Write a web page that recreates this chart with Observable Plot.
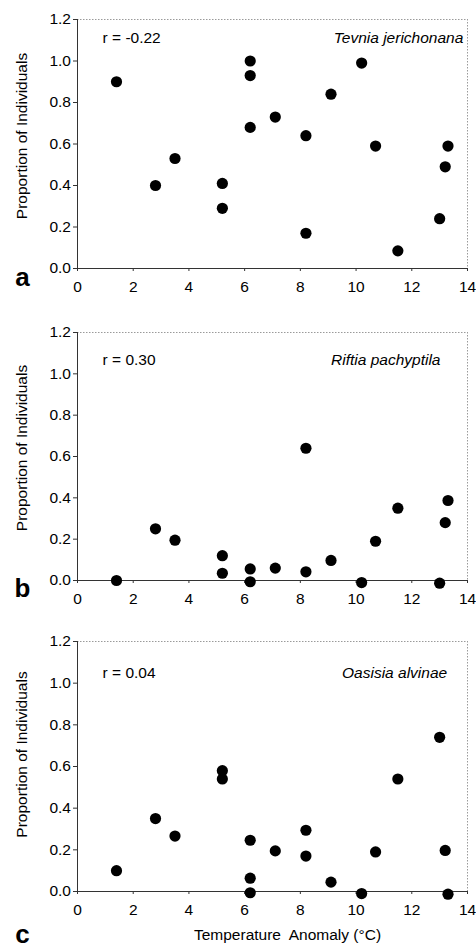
<!DOCTYPE html>
<html>
<head>
<meta charset="utf-8">
<script src="https://cdn.jsdelivr.net/npm/d3@7"></script>
<script src="https://cdn.jsdelivr.net/npm/@observablehq/plot@0.6"></script>
<style>
  body { margin: 0; background: #fff; }
  #chart { width: 476px; height: 949px; }
  #chart svg { display: block; }
  #chart svg text { white-space: pre; }
</style>
</head>
<body>
<div id="chart"></div>
<script>
// ---- data ----
const xTicks = [0, 2, 4, 6, 8, 10, 12, 14];
const yTicks = [0, 0.2, 0.4, 0.6, 0.8, 1.0, 1.2];

const tevniaTemp = [1.4, 2.8, 3.5, 5.2, 5.2, 6.2, 6.2, 6.2, 7.1, 8.2, 8.2, 9.1, 10.2, 10.7, 11.5, 13.0, 13.2, 13.3];
const tevniaProp = [0.90, 0.40, 0.53, 0.41, 0.29, 1.00, 0.93, 0.68, 0.73, 0.64, 0.17, 0.84, 0.99, 0.59, 0.085, 0.24, 0.49, 0.59];

const riftiaTemp = [1.4, 2.8, 3.5, 5.2, 5.2, 6.2, 6.2, 7.1, 8.2, 8.2, 9.1, 10.2, 10.7, 11.5, 13.0, 13.2, 13.3];
const riftiaProp = [0.0, 0.25, 0.195, 0.12, 0.035, 0.056, -0.006, 0.06, 0.64, 0.042, 0.097, -0.01, 0.19, 0.35, -0.013, 0.28, 0.387];

const oasisiaTemp = [1.4, 2.8, 3.5, 5.2, 5.2, 6.2, 6.2, 6.2, 7.1, 8.2, 8.2, 9.1, 10.2, 10.7, 11.5, 13.0, 13.2, 13.3];
const oasisiaProp = [0.10, 0.35, 0.266, 0.58, 0.54, 0.246, 0.064, -0.006, 0.195, 0.294, 0.17, 0.045, -0.01, 0.19, 0.54, 0.74, 0.197, -0.013];

const panelLetters = ["a", "b", "c"];
const species = ["Tevnia jerichonana", "Riftia pachyptila", "Oasisia alvinae"];
const rLabels = ["r = -0.22", "r = 0.30", "r = 0.04"];
const yLabel = "Proportion of Individuals";
const xLabel = "Temperature  Anomaly (°C)";

// ---- layout per panel ----
const layout = [
  {height: 310, marginTop: 19, marginBottom: 42, rY: 1.111, spX: 13.85, letterDy: 17, yLabDy: -8},
  {height: 310, marginTop: 22, marginBottom: 40, rY: 1.069, spX: 13.03, letterDy: 16, yLabDy: -8.5},
  {height: 329, marginTop: 21, marginBottom: 58, rY: 1.051, spX: 13.27, letterDy: 51, yLabDy: -12}
];
const temps = [tevniaTemp, riftiaTemp, oasisiaTemp];
const props = [tevniaProp, riftiaProp, oasisiaProp];

const font = "'Liberation Sans', Arial, Helvetica, sans-serif";
const fs = 15.5;
const chart = document.getElementById("chart");

for (let i = 0; i < 3; i++) {
  const L = layout[i];
  const data = temps[i].map((t, j) => ({t, p: props[i][j]}));
  const marks = [
    Plot.ruleY([1.2], {stroke: "#9a9a9a", strokeDasharray: "1.5,1.5"}),
    Plot.ruleX([14], {stroke: "#9a9a9a", strokeDasharray: "1.5,1.5"}),
    Plot.axisY(yTicks, {tickFormat: d3.format(".1f"), tickSize: 4, tickPadding: 2.5, label: null, fontSize: fs, stroke: "#333"}),
    Plot.axisX(xTicks, {tickSize: 3, tickPadding: 9, label: null, fontSize: fs, stroke: "#333"}),
    Plot.ruleY([0], {stroke: "#333"}),
    Plot.ruleX([0], {stroke: "#333"}),
    Plot.dot(data, {x: "t", y: "p", r: 5.6, fill: "black", stroke: null}),
    Plot.text([rLabels[i]], {text: d => d, x: 0.9, y: L.rY, textAnchor: "start", fontSize: fs}),
    Plot.text([species[i]], {text: d => d, x: L.spX, y: L.rY, textAnchor: "end", fontSize: fs, fontStyle: "italic"}),
    Plot.text([panelLetters[i]], {text: d => d, frameAnchor: "bottom-left", dx: -55, dy: L.letterDy, fontSize: 26, fontWeight: "bold", textAnchor: "middle"}),
    Plot.text([yLabel], {text: d => d, frameAnchor: "left", rotate: -90, dx: -55, dy: L.yLabDy, fontSize: fs, textAnchor: "middle"})
  ];
  if (i === 2) {
    marks.push(Plot.text([xLabel], {text: d => d, frameAnchor: "bottom", dx: 15, dy: 48, fontSize: fs, textAnchor: "middle"}));
  }
  const p = Plot.plot({
    width: 476,
    height: L.height,
    marginTop: L.marginTop,
    marginBottom: L.marginBottom,
    marginLeft: 77,
    marginRight: 9,
    x: {domain: [0, 14]},
    y: {domain: [0, 1.2]},
    style: {fontFamily: font, fontSize: fs + "px", color: "black", background: "white", overflow: "visible"},
    marks
  });
  chart.appendChild(p);
}
</script>
</body>
</html>
